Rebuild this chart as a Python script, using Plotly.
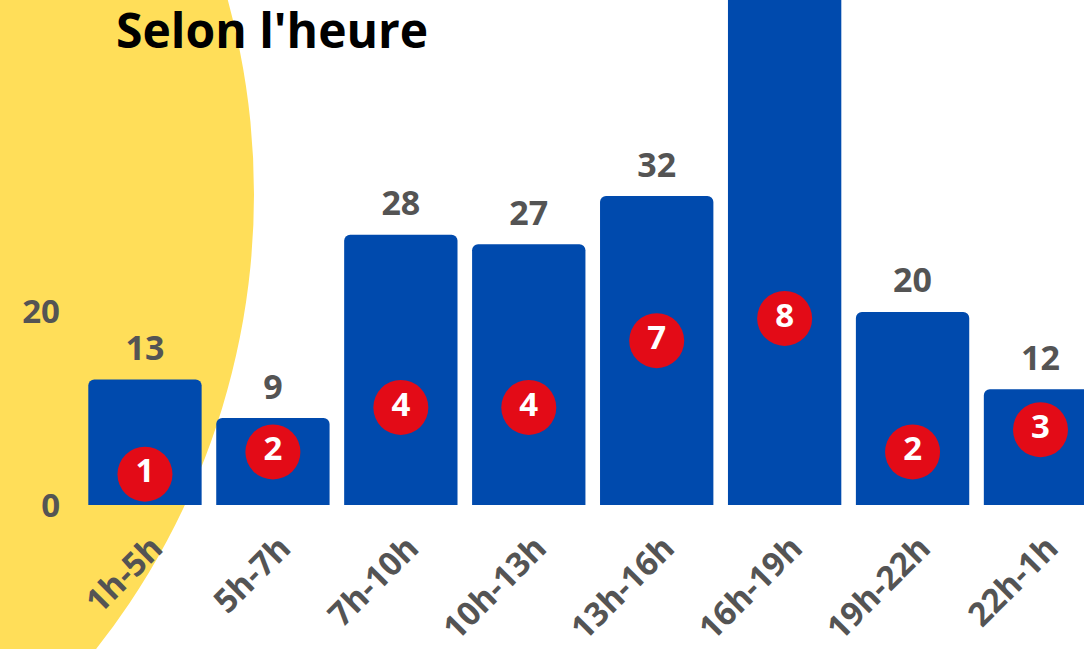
import plotly.graph_objects as go

categories = ["1h-5h", "5h-7h", "7h-10h", "10h-13h", "13h-16h", "16h-19h", "19h-22h", "22h-1h"]
counts = [13, 9, 28, 27, 32, 58, 20, 12]
badges = [1, 2, 4, 4, 7, 8, 2, 3]
y_ticks = [0, 20]

W, H = 1084, 649
ML, MR, MT, MB = 81, 0, 0, 142
PW, PH = W - ML - MR, H - MT - MB

BLUE = "#004AAD"
RED = "#E30B17"
YELLOW = "#FFDE59"
GRAY = "#545454"
FONT = "Open Sans"


def px_to_paper_x(px):
    return (px - ML) / PW


def px_to_paper_y(py):
    return (H - MB - py) / PH


fig = go.Figure()

fig.add_trace(go.Bar(
    x=categories, y=counts, marker=dict(color=BLUE, line=dict(width=0)),
    hoverinfo="skip", showlegend=False,
))

fig.add_trace(go.Scatter(
    x=categories, y=counts, mode="markers+text", text=[str(v) for v in counts],
    textposition="top center",
    marker=dict(size=16, color="rgba(0,0,0,0)"),
    textfont=dict(family=FONT, size=34, color=GRAY, weight=700),
    cliponaxis=True, hoverinfo="skip", showlegend=False,
))

fig.add_trace(go.Scatter(
    x=categories, y=badges, yaxis="y2", mode="markers+text",
    text=[str(v) for v in badges], textposition="middle center",
    marker=dict(size=55, color=RED, line=dict(width=0)),
    textfont=dict(family=FONT, size=33, color="white", weight=700),
    hoverinfo="skip", showlegend=False,
))

# background yellow disc
cx, cy, r = -485, 195, 739
fig.add_shape(
    type="circle", xref="paper", yref="paper", layer="below",
    x0=px_to_paper_x(cx - r), x1=px_to_paper_x(cx + r),
    y0=px_to_paper_y(cy + r), y1=px_to_paper_y(cy - r),
    fillcolor=YELLOW, line=dict(width=0),
)

fig.add_annotation(
    text="<b>Selon l'heure</b>", xref="paper", yref="paper",
    x=px_to_paper_x(114), y=px_to_paper_y(30), xanchor="left", yanchor="middle",
    showarrow=False, font=dict(family=FONT, size=48, color="black"),
)

fig.update_layout(
    width=W, height=H,
    margin=dict(l=ML, r=MR, t=MT, b=MB, pad=0),
    paper_bgcolor="white", plot_bgcolor="rgba(0,0,0,0)",
    bargap=0.114, barcornerradius=6,
    xaxis=dict(
        range=[-0.5, 7.34], showgrid=False, zeroline=False, showline=False,
        ticks="", tickangle=-45, ticklabelstandoff=16, ticklabelshift=8,
        tickfont=dict(family=FONT, size=33, color=GRAY, weight=700),
    ),
    yaxis=dict(
        range=[0, 52.3], tickvals=y_ticks, showgrid=False, zeroline=False,
        showline=False, ticks="", ticklabelstandoff=20,
        tickfont=dict(family=FONT, size=33, color=GRAY, weight=700),
    ),
    yaxis2=dict(range=[-0.385, 22.31], overlaying="y", visible=False),
)

fig.write_html(
    "out.html",
    config={"displayModeBar": False},
    post_script="document.body.style.margin='0';document.body.style.overflow='hidden';",
)
